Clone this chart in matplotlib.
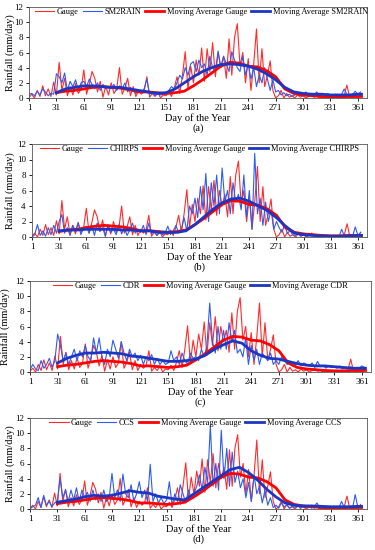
import matplotlib
matplotlib.use("Agg")
import matplotlib.pyplot as plt
import numpy as np

plt.rcParams['font.family'] = ['Liberation Serif', 'DejaVu Serif']

# daily rainfall, every third day (1, 4, 7, ... 364)
day = np.arange(1, 366, 3)
# moving-average curves read every 10 days
dayMA = np.append(np.arange(31, 362, 10), 365)

gauge = [0.1, 0.5, 0.0, 1.0, 0.2, 1.6, 0.3, 1.2, 0.2, 2.1,
         0.4, 4.7, 1.0, 2.6, 0.3, 1.5, 0.4, 1.9, 0.6, 1.2,
         3.7, 0.5, 1.8, 3.5, 2.6, 0.8, 2.2, 0.1, 1.6, 0.4,
         2.0, 0.6, 1.2, 4.0, 0.5, 1.3, 2.6, 0.3, 1.5, 0.2,
         1.0, 0.5, 0.9, 2.8, 0.1, 0.6, 0.2, 0.8, 0.0, 0.4,
         0.3, 0.9, 0.2, 1.3, 2.8, 0.6, 3.0, 6.1, 1.2, 4.2,
         2.0, 5.0, 3.0, 6.6, 2.2, 6.5, 3.5, 7.3, 2.8, 6.0,
         4.0, 5.5, 2.6, 7.8, 3.0, 8.0, 9.8, 4.2, 6.0, 2.0,
         5.2, 1.0, 4.5, 9.1, 2.0, 6.5, 1.5, 3.0, 4.9, 1.0,
         0.0, 0.3, 1.0, 0.0, 0.6, 0.1, 0.3, 0.0, 0.4, 0.1,
         0.3, 0.0, 0.2, 0.5, 0.1, 0.3, 0.0, 0.2, 0.0, 0.1,
         0.0, 0.1, 0.0, 0.2, 0.0, 0.3, 1.7, 0.1, 0.0, 0.2, 0.0, 0.6]
gaugeMA = [0.7, 0.9, 1.0, 1.2, 1.4, 1.5, 1.4, 1.3, 1.1, 0.8,
           0.8, 0.7, 0.6, 0.7, 0.9, 1.6, 2.4, 3.3, 4.2, 4.7,
           4.6, 4.2, 4.1, 3.6, 2.8, 1.2, 0.6, 0.4, 0.3, 0.2,
           0.15, 0.15, 0.2, 0.2, 0.2]

sm2rain = [0.5, 0.6, 0.3, 0.9, 0.4, 1.2, 0.8, 0.3, 0.6, 0.5,
           3.2, 2.8, 2.0, 3.3, 1.0, 2.2, 1.5, 2.4, 1.0, 2.0,
           2.2, 1.5, 2.5, 1.8, 1.2, 2.0, 1.0, 1.8, 1.2, 1.5,
           1.3, 1.8, 1.0, 1.6, 1.2, 2.0, 0.8, 1.4, 1.0, 0.6,
           1.0, 0.8, 1.2, 2.5, 0.5, 0.8, 0.3, 0.6, 0.4, 0.5,
           0.5, 1.0, 1.5, 1.2, 2.0, 3.0, 2.5, 4.0, 3.0, 4.5,
           4.8, 3.5, 5.0, 4.0, 4.5, 3.0, 5.5, 4.0, 3.5, 6.2,
           4.0, 5.5, 4.5, 3.5, 6.1, 5.0, 4.0, 3.5, 5.5, 3.0,
           4.5, 2.5, 4.0, 1.5, 3.0, 2.0, 4.0, 2.5, 1.0, 2.4,
           0.8, 1.0, 0.4, 0.7, 0.3, 0.5, 0.2, 0.4, 0.6, 0.3,
           0.4, 0.8, 0.3, 0.6, 0.4, 0.8, 0.3, 0.5, 0.4, 0.6,
           0.3, 0.4, 0.5, 0.3, 0.4, 1.2, 0.5, 0.3, 0.4, 0.9, 0.5, 0.8]
sm2rainMA = [0.7, 1.2, 1.4, 1.6, 1.6, 1.5, 1.4, 1.4, 1.2, 1.0,
             0.8, 0.6, 0.7, 1.2, 2.0, 2.8, 3.5, 4.0, 4.4, 4.5,
             4.4, 4.2, 3.8, 3.2, 2.4, 1.4, 0.8, 0.6, 0.5, 0.5,
             0.4, 0.4, 0.4, 0.5, 0.5]

chirps = [0.0, 0.3, 1.6, 0.2, 0.8, 0.1, 1.2, 0.3, 1.5, 0.5,
          2.0, 2.9, 0.5, 1.2, 0.2, 1.5, 0.8, 1.8, 0.3, 1.2,
          1.4, 0.5, 1.5, 0.2, 1.8, 0.7, 1.2, 0.1, 1.5, 0.6,
          1.0, 0.3, 1.6, 0.4, 1.2, 0.2, 0.9, 1.8, 0.5, 1.0,
          0.6, 1.5, 0.3, 1.8, 0.4, 0.8, 0.2, 0.6, 0.3, 0.5,
          1.4, 0.3, 0.8, 1.5, 0.5, 1.0, 2.5, 0.8, 4.0, 3.0,
          5.0, 2.5, 6.5, 3.5, 8.2, 2.0, 7.0, 4.0, 8.0, 3.0,
          8.9, 4.5, 6.0, 3.0, 7.0, 4.5, 5.5, 3.5, 8.0, 2.5,
          6.0, 1.0, 10.8, 3.0, 5.0, 1.5, 4.5, 2.0, 3.5, 1.0,
          2.0, 1.2, 0.6, 1.5, 0.5, 0.8, 0.3, 0.2, 0.6, 0.1,
          0.3, 0.1, 0.4, 0.2, 0.3, 0.0, 0.2, 0.1, 0.2, 0.0,
          0.1, 0.0, 0.2, 0.0, 1.0, 0.1, 0.0, 0.2, 0.0, 1.3, 0.2, 0.6]
chirpsMA = [0.8, 0.9, 0.9, 1.0, 1.0, 1.0, 1.0, 0.9, 0.9, 0.8,
            0.8, 0.6, 0.6, 0.6, 0.8, 1.6, 2.6, 3.6, 4.4, 4.9,
            5.0, 4.6, 4.0, 3.4, 2.5, 1.4, 0.5, 0.3, 0.2, 0.15,
            0.1, 0.1, 0.15, 0.2, 0.2]

cdr = [0.3, 1.0, 0.4, 0.2, 1.5, 0.5, 1.0, 1.8, 0.6, 1.5,
       5.0, 3.5, 1.5, 2.5, 1.0, 2.0, 3.0, 1.5, 2.8, 2.0,
       3.5, 2.0, 1.5, 4.5, 2.5, 4.5, 2.0, 1.0, 3.0, 2.0,
       4.2, 3.0, 1.8, 4.0, 2.5, 1.5, 3.0, 2.0, 2.5, 1.5,
       2.2, 1.0, 2.0, 1.5, 2.3, 1.0, 1.8, 1.0, 1.5, 1.0,
       1.2, 2.8, 1.5, 2.0, 1.0, 2.5, 1.5, 1.0, 2.5, 1.8,
       2.0, 1.5, 3.0, 2.0, 3.5, 9.1, 4.0, 2.5, 6.0, 3.0,
       5.5, 3.0, 6.5, 4.0, 5.5, 2.5, 3.0, 2.0, 4.5, 1.0,
       3.5, 1.5, 3.0, 1.0, 2.5, 2.0, 1.5, 2.5, 1.0, 1.5,
       1.0, 2.0, 1.5, 1.0, 1.2, 0.8, 1.0, 1.5, 0.8, 1.2,
       1.0, 0.8, 1.2, 0.6, 1.4, 0.7, 0.9, 0.5, 0.8, 0.6,
       0.7, 0.5, 0.8, 0.4, 0.6, 0.5, 0.7, 0.4, 0.6, 0.5, 0.8, 0.6]
cdrMA = [1.2, 1.8, 2.2, 2.5, 2.5, 2.6, 2.5, 2.4, 2.1, 2.0,
         1.8, 1.6, 1.4, 1.4, 1.5, 1.7, 2.2, 3.0, 3.6, 4.1,
         3.8, 2.8, 2.2, 1.8, 1.7, 1.4, 1.1, 0.9, 0.8, 0.8,
         0.7, 0.6, 0.5, 0.5, 0.5]

ccs = [0.0, 0.3, 0.5, 1.5, 0.2, 1.8, 0.5, 1.0, 0.3, 0.8,
       1.0, 4.0, 1.5, 2.5, 1.0, 2.5, 1.2, 2.8, 1.0, 2.5,
       1.5, 2.2, 1.0, 2.5, 1.2, 2.0, 1.0, 2.5, 1.0, 1.5,
       4.7, 1.5, 2.5, 1.0, 4.6, 2.0, 1.5, 3.2, 1.0, 2.0,
       3.6, 1.5, 2.5, 1.0, 5.9, 1.0, 2.0, 0.8, 1.5, 0.7,
       1.2, 3.6, 0.5, 2.0, 1.0, 3.2, 2.0, 0.8, 2.5, 1.5,
       2.0, 3.0, 4.5, 2.5, 5.5, 3.5, 11.0, 3.0, 6.0, 2.5,
       10.4, 4.0, 8.0, 3.0, 7.5, 3.5, 5.0, 2.8, 4.0, 1.5,
       3.5, 1.0, 4.5, 2.0, 3.0, 0.8, 2.5, 0.5, 1.5, 0.2,
       0.5, 0.1, 0.8, 0.3, 0.5, 0.1, 0.4, 0.2, 0.5, 0.1,
       0.4, 0.2, 0.5, 0.1, 0.3, 0.8, 0.2, 0.4, 0.1, 0.3,
       0.2, 0.0, 0.3, 0.1, 1.0, 0.2, 0.1, 0.3, 0.0, 1.9, 0.2, 0.4]
ccsMA = [0.9, 1.1, 1.3, 1.6, 1.8, 1.7, 1.8, 2.1, 2.4, 2.2,
         2.1, 1.7, 1.5, 1.3, 1.2, 2.0, 2.8, 3.6, 4.4, 5.2,
         5.5, 4.8, 3.8, 2.6, 1.6, 0.8, 0.5, 0.4, 0.4, 0.35,
         0.3, 0.3, 0.3, 0.35, 0.35]

products = ["SM2RAIN", "CHIRPS", "CDR", "CCS"]
productData = [sm2rain, chirps, cdr, ccs]
productMA = [sm2rainMA, chirpsMA, cdrMA, ccsMA]
panelLabels = ["(a)", "(b)", "(c)", "(d)"]
xticks = np.arange(1, 362, 30)
yticks = np.arange(0, 13, 2)

# axes boxes in pixels: left, right, top, bottom
boxes = [(29, 367, 7, 98), (32, 367, 144, 237), (30, 371, 281, 372), (30, 367, 418, 509)]
ylabelX = [-0.041, -0.051, -0.058, -0.045]
legendX = [0.51, 0.50, 0.50, 0.49]

W, H = 375, 550
fig = plt.figure(figsize=(W / 100, H / 100), dpi=100)

for i in range(4):
    l, r, t, b = boxes[i]
    ax = fig.add_axes([l / W, 1 - b / H, (r - l) / W, (b - t) / H])
    ax.plot(day, gauge, color="#ff2a2a", lw=0.8, label="Gauge")
    ax.plot(day, productData[i], color="#2f5cf0", lw=0.8, label=products[i])
    ax.plot(dayMA, gaugeMA, color="#ff0000", lw=2.0, label="Moving Average Gauge")
    ax.plot(dayMA, productMA[i], color="#1c36c4", lw=2.0, label="Moving Average " + products[i])

    ax.set_xlim(1, 371)
    ax.set_ylim(0, 12)
    ax.set_xticks(xticks)
    ax.set_yticks(yticks)
    ax.tick_params(labelsize=6.5, length=2.5, width=0.6, pad=2, direction="out")
    for s in ax.spines.values():
        s.set_linewidth(0.6)
        s.set_color("#555555")

    ax.set_xlabel("Day of the Year", fontsize=7.5, labelpad=1)
    ax.set_ylabel("Rainfall (mm/day)", fontsize=7.5)
    ax.yaxis.set_label_coords(ylabelX[i], 0.5)
    ax.text(0.5, -0.33, panelLabels[i], transform=ax.transAxes, ha="center", va="center", fontsize=7.5)

    ax.legend(loc="center", bbox_to_anchor=(legendX[i], 0.945), ncol=4, frameon=False,
              fontsize=6, handlelength=2.3, handletextpad=0.3, columnspacing=0.5, borderpad=0)

fig.savefig("out.png", dpi=100)
